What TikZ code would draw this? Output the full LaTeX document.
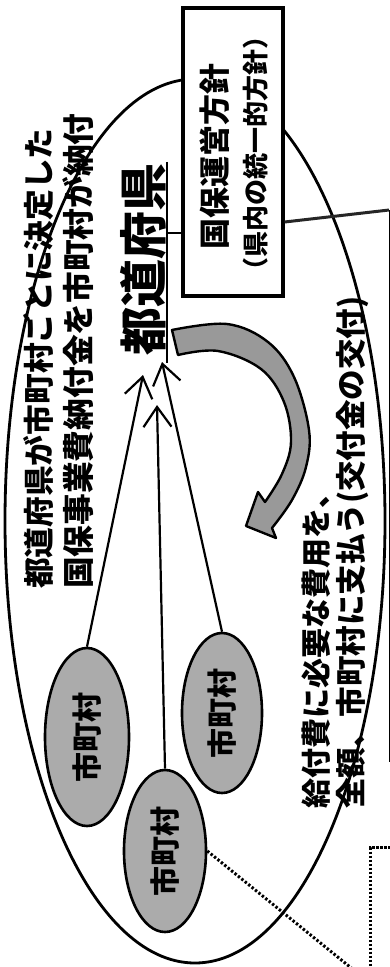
\documentclass[tikz,border=0pt]{standalone}
\usepackage{fontspec}
\usepackage{graphicx}
\setmainfont{Noto Sans CJK JP}
\usetikzlibrary{arrows.meta,shapes.geometric,calc}
\begin{document}
\begin{tikzpicture}[x=1pt,y=-1pt,
  txt/.style={inner sep=0pt},
  muni/.style={draw, ellipse, line width=2.6pt, fill=black!33, inner sep=0pt,
    font=\fontsize{30}{30}\selectfont\bfseries},
  conn/.style={line width=2.2pt, -{Straight Barb[length=20pt,width=28pt,line width=2.2pt]}},
  band/.style={draw, line width=2.4pt, fill=black!40, line join=round}
]
\useasboundingbox (0,0) rectangle (390,967);
\clip (0,0) rectangle (390,967);
\fill[white] (0,0) rectangle (390,967);

% large region ellipse
\node[draw, ellipse, line width=2.8pt, minimum width=380pt, minimum height=884pt, inner sep=0pt] (region) at (195,521) {};

% off-frame boxes
\node[draw, line width=4pt, minimum width=150pt, minimum height=548pt, anchor=north west, inner sep=0pt] (ext) at (389,210) {};
\node[draw, dash pattern=on 2.4pt off 1.6pt, line width=3pt, minimum width=100pt, minimum height=200pt, anchor=north west, inner sep=0pt] (dbox) at (369,846) {};

% policy box
\node[draw, line width=3.2pt, fill=white, minimum width=100pt, minimum height=288pt, inner sep=0pt] (box) at (233,152) {};
\node[txt] (boxt1) at (215,156) {\rotatebox{90}{\fontsize{31}{31}\selectfont\bfseries 国保運営方針}};
\node[txt] (boxt2) at (256,153) {\rotatebox{90}{\fontsize{26}{26}\selectfont\bfseries （県内の統一的方針）}};

% prefecture
\node[txt] (pref) at (143,259) {\rotatebox{90}{\fontsize{48}{48}\selectfont\bfseries 都道府県}};
\draw[line width=2.2pt] ($(pref.north east)+(1,-1)$) -- ($(pref.south east)+(1,8)$);
\coordinate (jp) at (167,233);
\draw[line width=2.2pt] (jp) -- (jp -| box.west);
\draw[line width=3pt, black!85] ($(box.east)+(0,70)$) -- (ext.north west);

% municipalities
\node[muni, minimum width=84pt, minimum height=178pt] (e1) at (87,737) {\rotatebox{90}{市町村}};
\node[muni, minimum width=80pt, minimum height=160pt] (e2) at (222,713) {\rotatebox{90}{市町村}};
\node[muni, minimum width=82pt, minimum height=162pt] (e3) at (165,851) {\rotatebox{90}{市町村}};

\coordinate (t1) at (143,375);
\coordinate (t2) at (157,405);
\coordinate (t3) at (162,362);
\draw[conn] (e1.north) -- (t1);
\draw[conn] (e3.north) -- (t2);
\draw[conn] (e2.north) -- (t3);

\coordinate (dend) at (366,980);
\draw[line width=3pt, dash pattern=on 2.4pt off 2pt] (e3.east) -- (dend);

% curved grant arrow
\path[band] plot[smooth, tension=0.6] coordinates {(172,330) (227,324) (268,342) (294,377) (309,430) (306,467) (292,500) (272,528)}
  -- (276,538) -- (246,526) -- (258,492)
  -- plot[smooth, tension=0.6] coordinates {(265,502) (282,474) (291,442) (284,402) (261,369) (218,351) (178,355)} -- cycle;

% texts
\node[txt, anchor=south] (l1) at (39,589) {\rotatebox{90}{\fontsize{30.7}{30.7}\selectfont\bfseries 都道府県が市町村ごとに決定した}};
\node[txt, anchor=south] (l2) at (78,589) {\rotatebox{90}{\fontsize{31.7}{31.7}\selectfont\bfseries 国保事業費納付金を市町村が納付}};
\node[txt, anchor=south] (l3) at (316,809) {\rotatebox{90}{\fontsize{30}{30}\selectfont\bfseries 給付費に必要な費用を、}};
\node[txt, anchor=south] (l4) at (353,809) {\rotatebox{90}{\fontsize{30.5}{30.5}\selectfont\bfseries 全額、市町村に支払う(交付金の交付)}};
\end{tikzpicture}
\end{document}
